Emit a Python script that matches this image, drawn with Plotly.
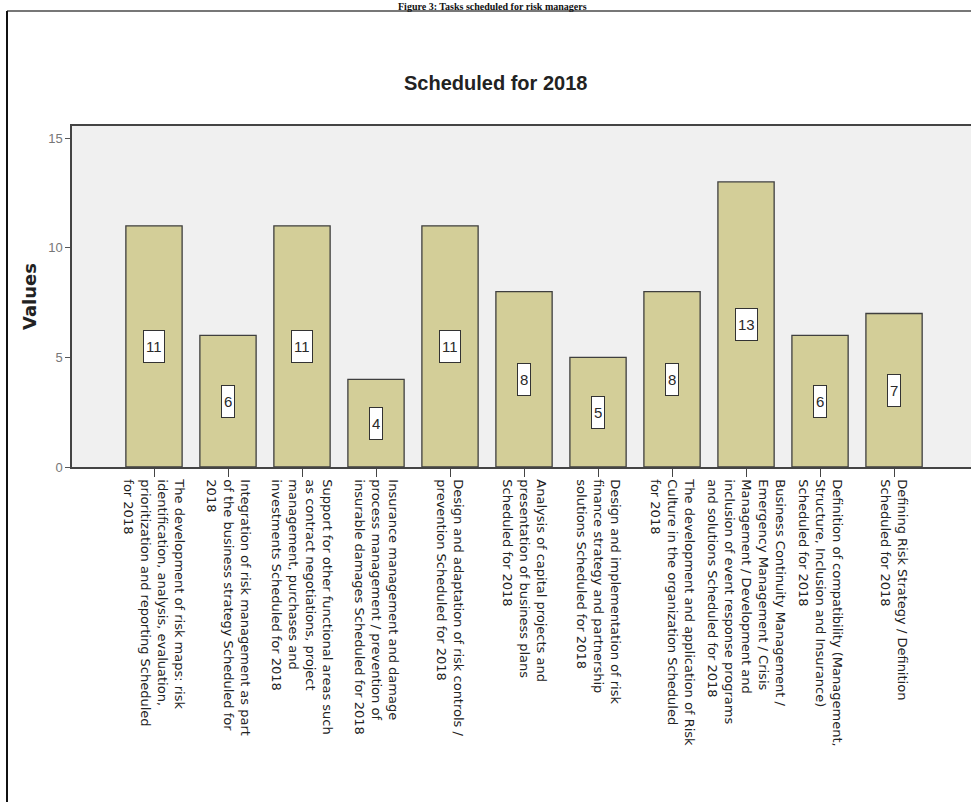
import plotly.graph_objects as go

# Tasks and the number of risk managers who scheduled each one for 2018
tasks = [
    "The development of risk maps: risk<br>identification, analysis, evaluation,<br>prioritization and reporting Scheduled<br>for 2018",
    "Integration of risk management as part<br>of the business strategy Scheduled for<br>2018",
    "Support for other functional areas such<br>as contract negotiations, project<br>management, purchases and<br>investments Scheduled for 2018",
    "Insurance management and damage<br>process management / prevention of<br>insurable damages Scheduled for 2018",
    "Design and adaptation of risk controls /<br>prevention Scheduled for 2018",
    "Analysis of capital projects and<br>presentation of business plans<br>Scheduled for 2018",
    "Design and implementation of risk<br>finance strategy and partnership<br>solutions Scheduled for 2018",
    "The development and application of Risk<br>Culture in the organization Scheduled<br>for 2018",
    "Business Continuity Management /<br>Emergency Management / Crisis<br>Management / Development and<br>inclusion of event response programs<br>and solutions Scheduled for 2018",
    "Definition of compatibility (Management,<br>Structure, Inclusion and Insurance)<br>Scheduled for 2018",
    "Defining Risk Strategy / Definition<br>Scheduled for 2018",
]
counts = [11, 6, 11, 4, 11, 8, 5, 8, 13, 6, 7]
y_ticks = [0, 5, 10, 15]

W, H = 971, 802
ML, MR, MT, MB = 72, 0, 126, 335
plot_w = W - ML - MR
plot_h = H - MT - MB


def px_x(px):
    return (px - ML) / plot_w


def px_y(py):
    return (H - MB - py) / plot_h


positions = list(range(len(tasks)))

fig = go.Figure()
fig.add_trace(go.Bar(
    x=positions,
    y=counts,
    width=0.76,
    marker=dict(color="#D3CE98", line=dict(color="#3f3f3f", width=1.3)),
    hoverinfo="skip",
))

# value boxes in the middle of each bar
for pos, val in zip(positions, counts):
    txt = str(val)
    fig.add_annotation(
        x=pos, y=val / 2, xref="x", yref="y",
        text=txt, showarrow=False,
        font=dict(family="Liberation Sans, Arial", size=15, color="#2a2a2a"),
        bgcolor="white", bordercolor="#333333", borderwidth=1,
        borderpad=2, height=27,
        xanchor="center", yanchor="middle",
    )

# chart title
fig.add_annotation(
    x=px_x(495), y=px_y(83), xref="paper", yref="paper",
    text="<b>Scheduled for 2018</b>", showarrow=False,
    font=dict(family="Liberation Sans, Arial", size=20, color="#222222"),
    xanchor="center", yanchor="middle",
)

# figure caption above the frame
fig.add_annotation(
    x=px_x(492), y=px_y(0), xref="paper", yref="paper",
    text="<b>Figure 3: Tasks scheduled for risk managers</b>", showarrow=False,
    font=dict(family="Liberation Serif, Times New Roman", size=10, color="#111111"),
    xanchor="center", yanchor="top", borderpad=0,
)

# outer frame around the chart
fig.add_shape(type="line", xref="paper", yref="paper",
              x0=px_x(7), x1=px_x(W + 5), y0=px_y(11), y1=px_y(11),
              line=dict(color="#777777", width=2))
fig.add_shape(type="line", xref="paper", yref="paper",
              x0=px_x(7), x1=px_x(7), y0=px_y(11), y1=px_y(H + 5),
              line=dict(color="#111111", width=2))

fig.update_layout(
    width=W, height=H,
    margin=dict(l=ML, r=MR, t=MT, b=MB, pad=0),
    paper_bgcolor="white",
    plot_bgcolor="#F0F0F0",
    showlegend=False,
    bargap=0.24,
)

fig.update_xaxes(
    tickmode="array", tickvals=positions, ticktext=tasks,
    tickangle=90,
    tickfont=dict(family="DejaVu Sans", size=13, color="#222222"),
    range=[-1.108, 11.04],
    showline=True, linecolor="#444444", linewidth=1.5, mirror=True,
    ticks="outside", ticklen=8, tickcolor="#444444", tickwidth=1.2,
    showgrid=False, zeroline=False, fixedrange=True,
)
fig.update_yaxes(
    tickmode="array", tickvals=y_ticks, ticktext=[str(v) for v in y_ticks],
    range=[0, 15.55],
    tickfont=dict(family="Liberation Sans, Arial", size=13, color="#777777"),
    showline=True, linecolor="#444444", linewidth=1.5,
    ticks="outside", ticklen=5, tickcolor="#555555", tickwidth=1.2,
    showgrid=False, zeroline=False, fixedrange=True,
    title=dict(text="<b>Values</b>",
               font=dict(family="DejaVu Sans", size=18, color="#222222"),
               standoff=7),
)

fig.write_html("out.html")
